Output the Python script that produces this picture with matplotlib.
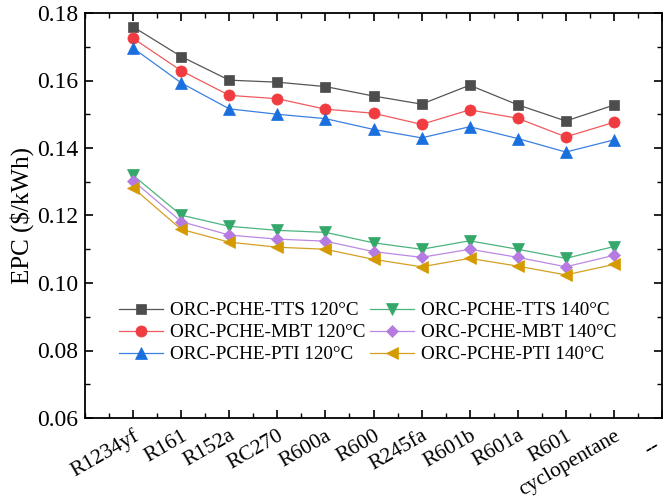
import matplotlib
matplotlib.use("Agg")
import matplotlib.pyplot as plt
import matplotlib.transforms as mtransforms
from matplotlib.ticker import MultipleLocator

plt.rcParams['font.family'] = ['Liberation Serif', 'DejaVu Serif']
plt.rcParams['mathtext.fontset'] = 'stix'

categories = ["R1234yf", "R161", "R152a", "RC270", "R600a", "R600", "R245fa",
              "R601b", "R601a", "R601", "cyclopentane"]
extra_label = "--"

tts_120 = [0.1759, 0.1671, 0.1601, 0.1595, 0.1582, 0.1554, 0.1530, 0.1586, 0.1528, 0.1480, 0.1527]
mbt_120 = [0.1725, 0.1629, 0.1556, 0.1546, 0.1515, 0.1503, 0.1470, 0.1513, 0.1488, 0.1433, 0.1476]
pti_120 = [0.1696, 0.1593, 0.1516, 0.1500, 0.1487, 0.1455, 0.1430, 0.1463, 0.1428, 0.1388, 0.1424]
tts_140 = [0.1319, 0.1201, 0.1168, 0.1156, 0.1150, 0.1119, 0.1100, 0.1125, 0.1100, 0.1073, 0.1108]
mbt_140 = [0.1303, 0.1182, 0.1142, 0.1130, 0.1124, 0.1093, 0.1076, 0.1100, 0.1076, 0.1048, 0.1082]
pti_140 = [0.1282, 0.1159, 0.1121, 0.1106, 0.1100, 0.1070, 0.1048, 0.1073, 0.1050, 0.1024, 0.1055]

labels = ["ORC-PCHE-TTS 120\u00b0C", "ORC-PCHE-MBT 120\u00b0C", "ORC-PCHE-PTI 120\u00b0C",
          "ORC-PCHE-TTS 140\u00b0C", "ORC-PCHE-MBT 140\u00b0C", "ORC-PCHE-PTI 140\u00b0C"]

fig = plt.figure(figsize=(6.69, 5.03), dpi=100)
ax = fig.add_axes([85/669, 1-418/503, (662-85)/669, (418-13)/503])

x = list(range(1, len(categories) + 1))
series = [
    (tts_120, '#4d4d4d', '#555555', 's', 7.0),
    (mbt_120, '#f03c40', '#f05a5e', 'o', 8.0),
    (pti_120, '#1a6fdf', '#3a80e0', '^', 8.5),
    (tts_140, '#33a86a', '#4cb47c', 'v', 8.5),
    (mbt_140, '#b57be0', '#bb88e4', 'D', 6.5),
    (pti_140, '#d49a00', '#d4a020', '<', 8.5),
]
handles = []
for (vals, mc, lc, mk, ms), lab in zip(series, labels):
    h, = ax.plot(x, vals, color=lc, lw=0.9, marker=mk, markersize=ms,
                 markerfacecolor=mc, markeredgecolor=mc, markeredgewidth=0.5, label=lab)
    handles.append(h)

ax.set_xlim(0, 12)
ax.set_ylim(0.06, 0.18)
ax.set_xticks(x + [12])
ax.set_xticklabels(categories + [""], rotation=30, ha='right',
                   rotation_mode='anchor', fontsize=15.5)
tlabels = ax.get_xticklabels()
for t in tlabels:
    off = mtransforms.ScaledTranslation(10/100, -3/100, fig.dpi_scale_trans)
    t.set_transform(t.get_transform() + off)

# extra label at the far right end of the axis
trans = mtransforms.blended_transform_factory(ax.transData, ax.transAxes)
ax.text(11.82, -0.045, extra_label, transform=trans, rotation=30, ha='right', va='top',
        rotation_mode='anchor', fontsize=15.5, clip_on=False)

ax.xaxis.set_minor_locator(MultipleLocator(0.5))
ax.yaxis.set_major_locator(MultipleLocator(0.02))
ax.yaxis.set_minor_locator(MultipleLocator(0.01))
ax.set_yticklabels([f"{v:.2f}" for v in ax.get_yticks()])
ax.tick_params(axis='both', which='both', direction='in', top=True, right=True,
               labeltop=False, labelright=False)
ax.tick_params(axis='both', which='major', length=6, width=1.2)
ax.tick_params(axis='both', which='minor', length=3.5, width=1.0)
ax.tick_params(axis='y', labelsize=17, pad=5)
ax.tick_params(axis='x', pad=6)
for s in ax.spines.values():
    s.set_linewidth(1.3)

ax.set_ylabel("EPC (\\$/kWh)", fontsize=18, labelpad=2)

leg = ax.legend(handles=handles, ncol=2, loc='upper left',
                bbox_to_anchor=((119-85)/577, (418-302)/405),
                frameon=False, fontsize=13.8, handlelength=2.3, handletextpad=0.35,
                columnspacing=0.25, labelspacing=0.24, borderpad=0, borderaxespad=0)

fig.savefig("out.png", dpi=100)
